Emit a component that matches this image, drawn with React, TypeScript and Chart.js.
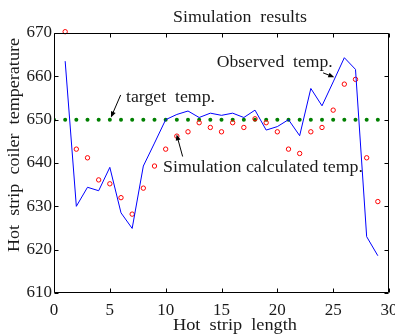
import React, { useEffect, useRef } from "react";
import { Chart, registerables } from "chart.js";

Chart.register(...registerables);

// ---- data ----
const stripPositions = [1, 2, 3, 4, 5, 6, 7, 8, 9, 10, 11, 12, 13, 14, 15, 16, 17, 18, 19, 20, 21, 22, 23, 24, 25, 26, 27, 28, 29];
const observedTemp = [663.5, 630, 634.4, 633.6, 639, 628.5, 624.9, 639.3, 644.6, 650, 651.2, 652, 650.5, 651.5, 651, 651.5, 650.5, 652.2, 647.6, 648.4, 650, 646.3, 657.2, 653.2, 658.7, 664.3, 661.6, 623, 618.6];
const simulatedTemp = [670.3, 643.2, 641.2, 636.1, 635.2, 632, 628.2, 634.2, 639.3, 643.2, 646.2, 647.2, 649.3, 648.2, 647.2, 649.3, 648.2, 650.2, 649.3, 647.2, 643.2, 642.2, 647.2, 648.2, 652.2, 658.2, 659.3, 641.2, 631.1];
const targetPositions = [0, 1, 2, 3, 4, 5, 6, 7, 8, 9, 10, 11, 12, 13, 14, 15, 16, 17, 18, 19, 20, 21, 22, 23, 24, 25, 26, 27, 28, 29];
const targetTemp = 650;

const xTickValues = [0, 5, 10, 15, 20, 25, 30];
const yTickValues = [610, 620, 630, 640, 650, 660, 670];

const chartTitle = "Simulation  results";
const xAxisTitle = "Hot  strip  length";
const yAxisTitle = "Hot  strip  coiler  temperature";

// annotations: text anchor and arrow (data coordinates)
const annotations = [
  { text: "target  temp.", tx: 6.45, ty: 655, w: 89, from: [5.97, 655.7], to: [5.1, 650.5] },
  { text: "Observed  temp.", tx: 14.57, ty: 663.1, w: 116, from: [24.1, 660.8], to: [25.1, 659.8] },
  { text: "Simulation calculated temp.", tx: 9.76, ty: 638.8, w: 200, from: [11.52, 641.5], to: [10.98, 646.6] },
];

const FONT = "'Liberation Serif', 'DejaVu Serif', serif";
const TEXT_COLOR = "#1a1a1a";

function drawArrow(ctx: CanvasRenderingContext2D, x1: number, y1: number, x2: number, y2: number) {
  const ang = Math.atan2(y2 - y1, x2 - x1);
  const head = 6;
  const hw = 2.5;
  ctx.beginPath();
  ctx.moveTo(x1, y1);
  ctx.lineTo(x2 - Math.cos(ang) * head * 0.8, y2 - Math.sin(ang) * head * 0.8);
  ctx.stroke();
  ctx.beginPath();
  ctx.moveTo(x2, y2);
  ctx.lineTo(x2 - Math.cos(ang) * head - Math.sin(ang) * hw, y2 - Math.sin(ang) * head + Math.cos(ang) * hw);
  ctx.lineTo(x2 - Math.cos(ang) * head + Math.sin(ang) * hw, y2 - Math.sin(ang) * head - Math.cos(ang) * hw);
  ctx.closePath();
  ctx.fill();
}

// draw text stretched horizontally to a given width; align: 'left' | 'center'
function stretchedText(ctx: CanvasRenderingContext2D, text: string, x: number, y: number, width: number, align: "left" | "center") {
  const m = ctx.measureText(text).width;
  const sx = width / m;
  ctx.save();
  ctx.translate(x, y);
  ctx.scale(sx, 1);
  ctx.textAlign = align;
  ctx.fillText(text, 0, 0);
  ctx.restore();
}

const overlayPlugin = {
  id: "overlay",
  afterDraw(chart: any) {
    const { ctx, chartArea, scales } = chart;
    const { left, right, top, bottom } = chartArea;
    const xs = scales.x;
    const ys = scales.y;
    ctx.save();
    ctx.strokeStyle = "#000";
    ctx.lineWidth = 1;
    const L = Math.round(left) + 0.5;
    const R = Math.round(right) - 0.5;
    const T = Math.round(top) + 0.5;
    const B = Math.round(bottom) - 0.5;
    ctx.beginPath();
    ctx.rect(L, T, R - L, B - T);
    ctx.stroke();
    // inward ticks
    const tl = 4;
    ctx.beginPath();
    xTickValues.forEach((v) => {
      const px = Math.round(xs.getPixelForValue(v)) + 0.5;
      ctx.moveTo(px, B);
      ctx.lineTo(px, B - tl);
      ctx.moveTo(px, T);
      ctx.lineTo(px, T + tl);
    });
    yTickValues.forEach((v) => {
      const py = Math.round(ys.getPixelForValue(v)) + 0.5;
      ctx.moveTo(L, py);
      ctx.lineTo(L + tl, py);
      ctx.moveTo(R, py);
      ctx.lineTo(R - tl, py);
    });
    ctx.stroke();

    // title
    ctx.fillStyle = TEXT_COLOR;
    ctx.textBaseline = "middle";
    ctx.font = `16px ${FONT}`;
    stretchedText(ctx, chartTitle, 240, 18, 134, "center");

    // x axis title
    ctx.font = `16px ${FONT}`;
    stretchedText(ctx, xAxisTitle, 235, 326, 124, "center");

    // y axis title
    ctx.save();
    ctx.translate(15, 145);
    ctx.rotate(-Math.PI / 2);
    stretchedText(ctx, yAxisTitle, 0, 0, 214, "center");
    ctx.restore();

    // annotations
    ctx.font = `16px ${FONT}`;
    ctx.strokeStyle = "#000";
    annotations.forEach((a) => {
      ctx.fillStyle = TEXT_COLOR;
      stretchedText(ctx, a.text, xs.getPixelForValue(a.tx), ys.getPixelForValue(a.ty), a.w, "left");
      ctx.fillStyle = "#000";
      drawArrow(
        ctx,
        xs.getPixelForValue(a.from[0]),
        ys.getPixelForValue(a.from[1]),
        xs.getPixelForValue(a.to[0]),
        ys.getPixelForValue(a.to[1])
      );
    });
    ctx.restore();
  },
};

export default function App() {
  const canvasRef = useRef<HTMLCanvasElement | null>(null);

  useEffect(() => {
    const canvas = canvasRef.current;
    if (!canvas) return;
    const chart = new Chart(canvas, {
      type: "scatter",
      data: {
        datasets: [
          {
            label: "Observed temp.",
            data: stripPositions.map((x, i) => ({ x, y: observedTemp[i] })),
            showLine: true,
            borderColor: "#0000ff",
            borderWidth: 1,
            pointRadius: 0,
            fill: false,
          },
          {
            label: "Simulation calculated temp.",
            data: stripPositions.map((x, i) => ({ x, y: simulatedTemp[i] })),
            showLine: false,
            borderColor: "#ff0000",
            backgroundColor: "rgba(0,0,0,0)",
            borderWidth: 1,
            pointRadius: 2.2,
            clip: false as any,
          },
          {
            label: "target temp.",
            data: targetPositions.map((x) => ({ x, y: targetTemp })),
            showLine: false,
            borderColor: "#008000",
            backgroundColor: "#008000",
            borderWidth: 0,
            pointRadius: 2,
          },
        ],
      },
      options: {
        responsive: false,
        animation: false,
        devicePixelRatio: 1,
        layout: { padding: { left: 0, right: 6, top: 33, bottom: 0 } },
        plugins: {
          legend: { display: false },
          tooltip: { enabled: false },
          title: { display: false },
        },
        scales: {
          x: {
            type: "linear",
            min: 0,
            max: 30,
            grid: { display: false, drawTicks: false },
            border: { display: false },
            ticks: {
              stepSize: 5,
              padding: 7,
              color: TEXT_COLOR,
              font: { family: FONT, size: 17 },
              maxRotation: 0,
            },
            afterFit: (scale: any) => {
              scale.height = 42;
              scale.paddingLeft = 0;
              scale.paddingRight = 0;
            },
          },
          y: {
            type: "linear",
            min: 610,
            max: 670,
            grid: { display: false, drawTicks: false },
            border: { display: false },
            ticks: {
              stepSize: 10,
              padding: 2,
              color: TEXT_COLOR,
              font: { family: FONT, size: 17 },
            },
            afterFit: (scale: any) => {
              scale.width = 54;
              scale.paddingTop = 0;
              scale.paddingBottom = 0;
            },
          },
        },
      },
      plugins: [overlayPlugin],
    });
    return () => chart.destroy();
  }, []);

  return (
    <div style={{ position: "absolute", left: 0, top: 0, width: 395, height: 335, background: "#fff" }}>
      <canvas ref={canvasRef} width={395} height={335} style={{ width: 395, height: 335, display: "block" }} />
    </div>
  );
}
